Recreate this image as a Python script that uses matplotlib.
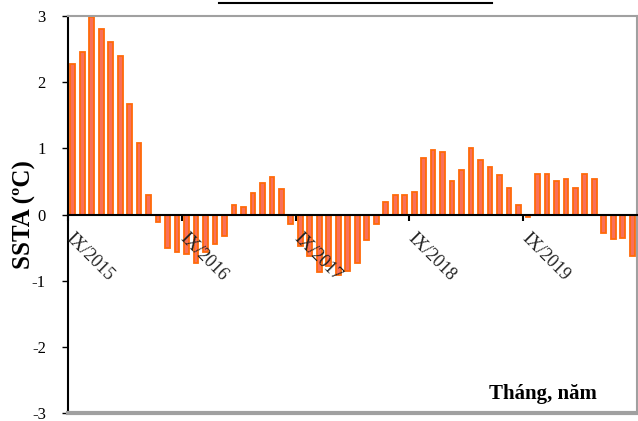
import numpy as np
import matplotlib
matplotlib.use('Agg')
import matplotlib.pyplot as plt
from matplotlib.lines import Line2D

# --- Dados: SSTA mensal, IX/2015 -> VIII/2020 ---
roman = ['I', 'II', 'III', 'IV', 'V', 'VI', 'VII', 'VIII', 'IX', 'X', 'XI', 'XII']
months = []
for k in range(60):
    m = (8 + k) % 12
    y = 2015 + (8 + k) // 12
    months.append(f'{roman[m]}/{y}')

ssta = [
    2.28, 2.46, 2.98, 2.81, 2.60, 2.40, 1.67, 1.08, 0.30, -0.12, -0.51, -0.57,   # IX/2015 - VIII/2016
    -0.60, -0.73, -0.56, -0.45, -0.33, 0.14, 0.12, 0.32, 0.47, 0.56, 0.39, -0.15,  # IX/2016 - VIII/2017
    -0.47, -0.62, -0.87, -0.78, -0.92, -0.85, -0.74, -0.39, -0.14, 0.19, 0.30, 0.30,  # IX/2017 - VIII/2018
    0.34, 0.86, 0.98, 0.94, 0.50, 0.68, 1.00, 0.83, 0.72, 0.59, 0.40, 0.15,      # IX/2018 - VIII/2019
    -0.04, 0.61, 0.61, 0.50, 0.54, 0.40, 0.61, 0.53, -0.28, -0.37, -0.35, -0.63,  # IX/2019 - VIII/2020
]

yticks = [3, 2, 1, 0, -1, -2, -3]
tick_idx = [i for i, m in enumerate(months) if m.startswith('IX/')]

serif = ['Liberation Serif', 'DejaVu Serif']
plt.rcParams['font.family'] = serif

fig = plt.figure(figsize=(6.38, 4.21), dpi=100)
ax = fig.add_axes([68 / 638, 1 - 413 / 421, 569 / 638, 397 / 421])

x = np.arange(len(ssta)) + 0.5
ax.bar(x, ssta, width=0.5, color='#f8705a', edgecolor='#ff6a0a', linewidth=1.3, zorder=2)

ax.set_xlim(0, len(ssta))
ax.set_ylim(-3, 3)

# eixo x cruzando em 0
ax.spines['bottom'].set_position(('data', 0))
ax.spines['bottom'].set_color('black')
ax.spines['bottom'].set_linewidth(1.5)
ax.spines['left'].set_color('black')
ax.spines['left'].set_linewidth(1.5)
for s in ['top', 'right']:
    ax.spines[s].set_color('#a0a0a0')
    ax.spines[s].set_linewidth(1.5)
ax.axhline(-3, color='#a0a0a0', linewidth=3, zorder=3, clip_on=False)

ax.set_yticks(yticks)
ax.set_yticklabels([str(v) for v in yticks], fontsize=12)
ax.tick_params(axis='y', direction='out', length=4, width=1, pad=12)

ax.set_xticks(tick_idx)
ax.set_xticklabels([])
ax.tick_params(axis='x', direction='out', length=4, width=1.5)
for i in tick_idx:
    ax.text(i + 0.1, -0.32, months[i], rotation=-45, rotation_mode='anchor',
            ha='left', va='center', fontsize=13, color='#222222')

ax.set_ylabel('SSTA (ºC)', fontsize=18, fontweight='bold', labelpad=-3)
ax.text(55.8, -2.72, 'Tháng, năm', ha='right', va='center', fontsize=15, fontweight='bold')

# sublinhado cortado no topo (legenda acima do gráfico)
fig.add_artist(Line2D([219 / 638, 492 / 638], [1 - 3 / 421, 1 - 3 / 421],
                      color='black', linewidth=1.5))

fig.savefig('out.png', dpi=100)
